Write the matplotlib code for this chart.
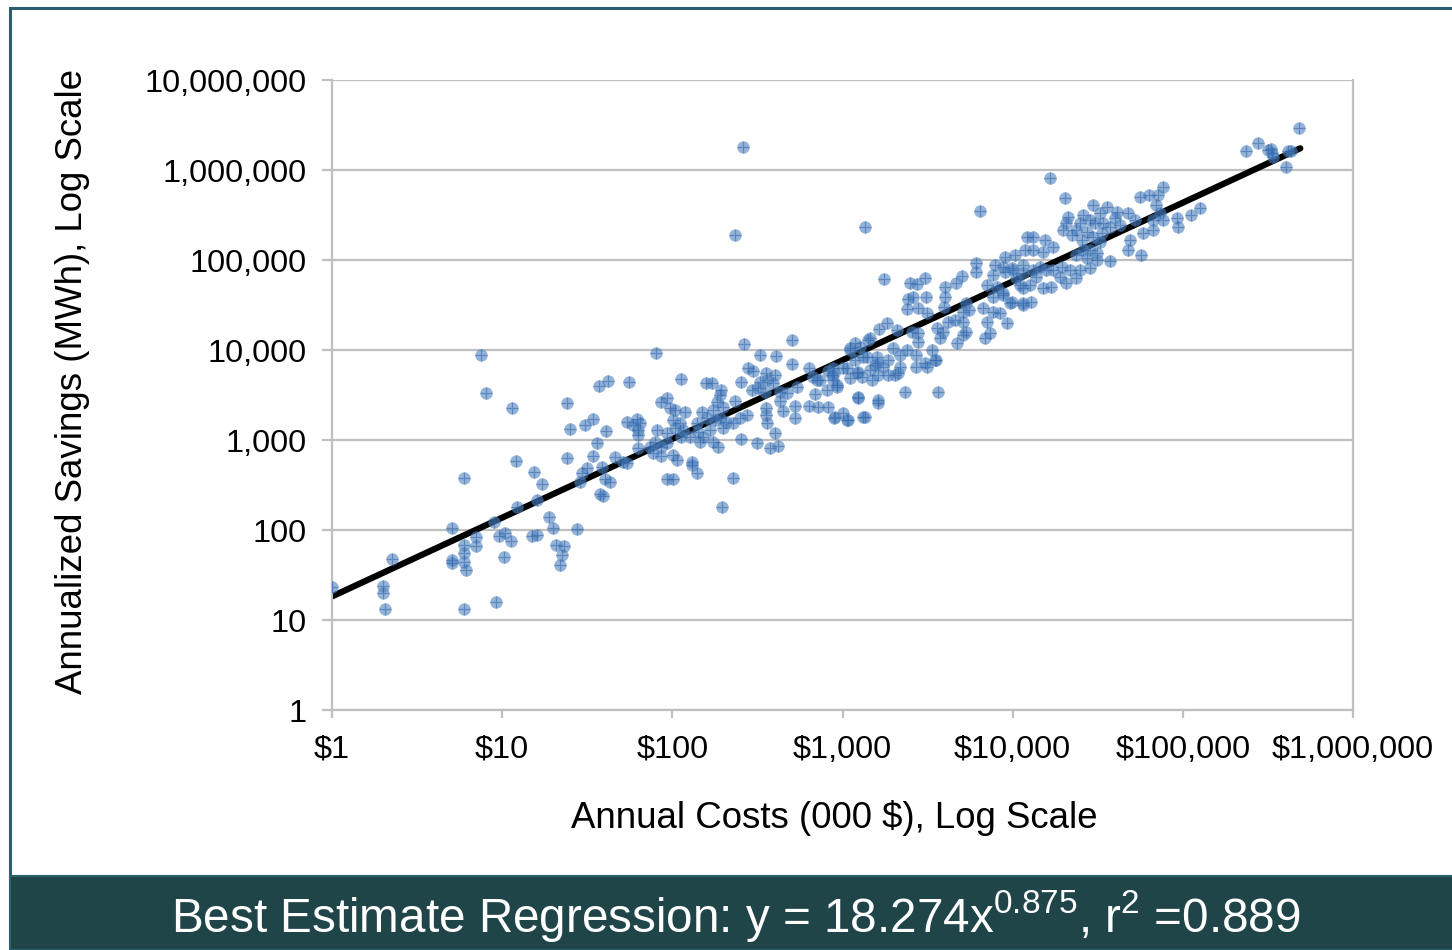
import numpy as np
import matplotlib
matplotlib.use("Agg")
import matplotlib.pyplot as plt
from matplotlib.patches import Rectangle
from matplotlib.ticker import FuncFormatter, NullLocator

plt.rcParams['font.family'] = ['Liberation Sans', 'DejaVu Sans']
plt.rcParams['mathtext.fontset'] = 'custom'
plt.rcParams['mathtext.rm'] = 'Liberation Sans'
plt.rcParams['mathtext.it'] = 'Liberation Sans'
plt.rcParams['mathtext.default'] = 'regular'

# (annual cost in $000, annualized savings in MWh) per program
low_end = [
    (1.0, 23.5), (2.0, 24), (2.0, 20), (2.05, 13.2), (2.24, 48), (5.1, 106),
    (5.1, 46), (5.1, 43), (6.0, 68), (6.0, 55), (6.0, 44), (6.1, 36),
    (6.0, 13.2), (6.0, 381), (7.0, 84), (7.0, 66), (9.2, 16), (9.0, 124),
    (9.6, 86), (10.4, 92), (10.2, 50), (11.2, 75), (14.9, 86), (16, 88),
    (20.7, 69), (23.1, 66), (22.5, 53), (22, 41), (20, 104), (27.6, 102),
    (18.8, 138), (16, 215), (12.3, 181), (15.3, 444), (17.1, 324),
    (29.3, 427), (12, 585), (24, 626), (25, 1325), (30.6, 1470),
    (24.1, 2560), (11.4, 2290), (8.0, 3300), (7.5, 8800), (28.6, 344),
]

mid_range = [
    (263, 11660), (502, 12900), (80, 9330), (328, 8800), (406, 8580),
    (504, 6990), (37, 4010), (42, 4560), (56, 4440), (113, 4760),
    (157, 4270), (172, 4270), (192, 3590), (190, 3160), (253, 4440),
    (277, 6360), (299, 5890), (353, 5510), (401, 5280), (327, 4440),
    (358, 4640), (391, 4270), (292, 3590), (320, 3750), (350, 3440),
    (429, 3440), (469, 3300), (537, 3850), (637, 6260), (672, 5050),
    (736, 4640), (824, 5890), (890, 5510), (880, 4640), (688, 3250),
    (806, 3590), (637, 2390), (719, 2340), (824, 2340), (890, 1770),
    (525, 2390), (525, 1770), (429, 2710), (448, 2100), (353, 2250),
    (353, 1900), (361, 1530), (401, 1190), (374, 809), (419, 858),
    (313, 933), (253, 1018), (86, 2670), (93, 2900), (97, 2250),
    (104, 2150), (119, 2060), (149, 2060), (174, 2150), (182, 2670),
    (199, 2340), (233, 2730), (159, 1740), (178, 1670), (190, 1740),
    (208, 1600), (228, 1530), (249, 1740), (273, 1900), (199, 1350),
    (166, 1290), (152, 1088), (145, 957), (174, 957), (186, 843),
    (101, 1670), (111, 1530), (104, 1350), (116, 1290), (113, 1088),
    (127, 1088), (139, 1530), (142, 1237), (54, 1600), (62, 1700),
    (64.5, 1530), (59, 1470), (63, 1290), (63, 1136), (81.5, 1290),
    (93, 1190), (79, 957), (86, 843), (93, 919), (34, 1700),
    (40.7, 1260), (35.9, 919), (34, 664), (31.4, 485), (38.4, 505),
    (46, 653), (51.5, 574), (54, 551), (63, 809), (74, 843), (77, 712),
    (86, 664), (101, 681), (106, 600), (130, 574), (130, 528), (139, 427),
    (93, 366), (101, 366), (226, 381), (195, 181), (40, 366), (43, 344),
    (37.5, 251), (39, 239),
]

upper_mid = [
    (2490, 56000), (2750, 54100), (3050, 62600), (3990, 50500),
    (4630, 56000), (5050, 67000), (6130, 91900), (6130, 74100),
    (7860, 88000), (7680, 68100), (8990, 74100), (9850, 80900),
    (11500, 71100), (10500, 62600), (2430, 36600), (2600, 38500),
    (3080, 39100), (2400, 28300), (2780, 29100), (3120, 26000),
    (3990, 39100), (3960, 30300), (5350, 33000), (5120, 26700),
    (5550, 27800), (7020, 52700), (8040, 50500), (8790, 42700),
    (7680, 39100), (9620, 33500), (11500, 48500), (11500, 33000),
    (6700, 29100), (7680, 26700), (8400, 25600), (9200, 19800),
    (7020, 20600), (7340, 15300), (6860, 13500), (4180, 20600),
    (4570, 21500), (5080, 20600), (5350, 16000), (4680, 11900),
    (5120, 14700), (3570, 17400), (3900, 16000), (3730, 13500),
    (3340, 10000), (3540, 7740), (3050, 7120), (2720, 8800),
    (2780, 12400), (2550, 16000), (2780, 15300), (1815, 19800),
    (1640, 17000), (1450, 13500), (2080, 16700), (1985, 10400),
    (2170, 8800), (2380, 10000), (1855, 7740), (1730, 6530),
    (2170, 6530), (2030, 5280), (1855, 5280), (1620, 5280),
    (1265, 10900), (1105, 10400), (1323, 8430), (1182, 7740),
    (1010, 6260), (1236, 5740), (1294, 5050), (1105, 4850), (923, 4080),
    (881, 6260), (862, 5280), (1450, 5990), (1549, 6810), (1585, 8430),
    (2325, 3440), (1236, 3030), (1620, 2780), (1620, 2560), (1010, 1980),
    (1056, 1670), (1323, 1820), (902, 1820), (2720, 6530), (3120, 6530),
    (3490, 7740), (3650, 3390), (704, 4640), (1056, 6260), (1210, 5510),
    (1482, 4640), (2125, 5510), (1080, 1670), (1236, 2900), (1353, 1820),
    (923, 3910), (1585, 7120), (1385, 8430), (1105, 10000), (1182, 11900),
    (1415, 12900),
]

large = [
    (20200, 485000), (29700, 408000), (35600, 391000), (40800, 344000),
    (39800, 291000), (21200, 303000), (20700, 256000), (25900, 316000),
    (24800, 256000), (28400, 278000), (32500, 330000), (30400, 256000),
    (34000, 256000), (37200, 234000), (19800, 215000), (22200, 190000),
    (23700, 215000), (27200, 206000), (25400, 167000), (29700, 182000),
    (32500, 160000), (33300, 198000), (42600, 245000), (47700, 330000),
    (52200, 278000), (55800, 505000), (63400, 528000), (71500, 528000),
    (76500, 652000), (70000, 408000), (73200, 330000), (66800, 278000),
    (76500, 278000), (91800, 291000), (93800, 234000), (112400, 316000),
    (125800, 375000), (58400, 198000), (66800, 215000), (48800, 167000),
    (47700, 129000), (57100, 114000), (12100, 182000), (13200, 182000),
    (15400, 167000), (17300, 141000), (15100, 124000), (13200, 129000),
    (11800, 129000), (10300, 114000), (8990, 109000), (23700, 114000),
    (27200, 104000), (31100, 100000), (37200, 98000), (31100, 119000),
    (28400, 129000), (25900, 129000), (10100, 77400), (8790, 84300),
    (11500, 88000), (13200, 77400), (14400, 84300), (15800, 77400),
    (17300, 77400), (19400, 84300), (21700, 77400), (24800, 77400),
    (28400, 80900), (11000, 52700), (12600, 52700), (15100, 48500),
    (16900, 50500), (20700, 55100), (23700, 62600), (18900, 65200),
    (13800, 65200), (8790, 40800), (9850, 34400), (11500, 31600),
    (12900, 34400),
]

very_large = [
    (480000, 2900000), (277000, 2010000), (236000, 1630000),
    (317000, 1670000), (336000, 1560000), (340000, 1380000),
    (415000, 1640000), (435000, 1620000), (406000, 1090000),
    (330000, 1700000),
]

outliers = [
    (259, 1815000), (233, 190000), (1360, 234000), (1764, 61500),
    (16500, 809000), (6410, 350000),
]

# fitted power law y = a * x^b
fit_a = 18.274
fit_b = 0.875
fit_r2 = 0.889
fit_x_range = (1, 490000)

x_ticks = [1, 10, 100, 1000, 10000, 100000, 1000000]
y_ticks = [1, 10, 100, 1000, 10000, 100000, 1000000, 10000000]

pts = np.array(low_end + mid_range + upper_mid + large + very_large + outliers)
cost, savings = pts[:, 0], pts[:, 1]

W, H = 1452, 950
fig = plt.figure(figsize=(W / 100, H / 100), dpi=100)
fig.patch.set_facecolor('white')

# outer frame and the footer band
fig.add_artist(Rectangle((10 / W, 74 / H), 1.2, 1 - 74 / H - 8 / H,
                         transform=fig.transFigure, fill=False,
                         edgecolor='#2B5F6E', lw=2.2, zorder=0))
fig.add_artist(Rectangle((10 / W, 0), 1.2, 74 / H, transform=fig.transFigure,
                         facecolor='#1F4548', edgecolor='#2B5F6E', lw=1.5, zorder=1))
fig.text(0.507, 0.036,
         r'Best Estimate Regression: y = %.3fx$^{%.3f}$, r$^{2}$ =%.3f' % (fit_a, fit_b, fit_r2),
         color='white', fontsize=34.3, ha='center', va='center')

ax = fig.add_axes([332 / W, 1 - 710 / H, (1353 - 332) / W, (710 - 80) / H])
ax.set_xscale('log')
ax.set_yscale('log')
ax.set_xlim(1, 1e6)
ax.set_ylim(1, 1e7)

grid_c = '#BFBFBF'
ax.set_yticks(y_ticks)
ax.set_xticks(x_ticks)
ax.xaxis.set_minor_locator(NullLocator())
ax.yaxis.set_minor_locator(NullLocator())
ax.yaxis.set_major_formatter(FuncFormatter(lambda v, p: f'{v:,.0f}'))
ax.xaxis.set_major_formatter(FuncFormatter(lambda v, p: f'${v:,.0f}'))
ax.grid(axis='y', color=grid_c, lw=1.6, zorder=0)
ax.set_axisbelow(True)
for side in ['left', 'bottom', 'right']:
    ax.spines[side].set_color(grid_c)
    ax.spines[side].set_linewidth(1.6)
ax.spines['top'].set_visible(False)
ax.tick_params(axis='y', length=7, width=1.6, color=grid_c, pad=11, labelsize=23.3)
ax.tick_params(axis='x', length=6, width=1.6, color=grid_c, pad=12, labelsize=23.3)

fx = np.logspace(np.log10(fit_x_range[0]), np.log10(fit_x_range[1]), 200)
ax.plot(fx, fit_a * fx ** fit_b, color='black', lw=4.5, solid_capstyle='round', zorder=2)

ax.scatter(cost, savings, s=80, color='#4F81BD', alpha=0.6, linewidths=0, zorder=3)
ax.scatter(cost, savings, s=70, marker='+', color='#2F65AD', alpha=0.55, linewidths=0.9, zorder=4)

ax.set_xlabel('Annual Costs (000 $), Log Scale', fontsize=26.4)
ax.set_ylabel('Annualized Savings (MWh), Log Scale', fontsize=26.4)
ax.xaxis.set_label_coords(0.492, -0.171)
ax.xaxis.label.set_va('center')
ax.yaxis.set_label_coords(-0.254, 0.522)
ax.yaxis.label.set_va('center')

fig.savefig('out.png', dpi=100)
